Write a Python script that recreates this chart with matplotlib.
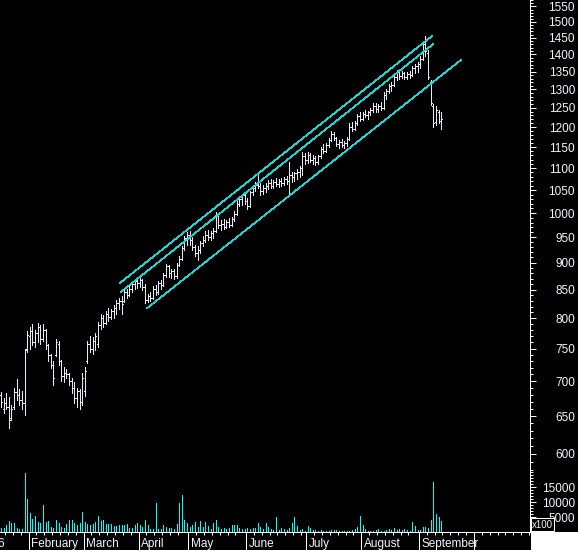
import numpy as np
import matplotlib
matplotlib.use("Agg")
import matplotlib.pyplot as plt
from matplotlib.collections import LineCollection
from matplotlib.patches import Rectangle
from matplotlib.ticker import FixedLocator, NullFormatter, FuncFormatter
from matplotlib import transforms

plt.rcParams['font.family'] = ['Liberation Sans', 'DejaVu Sans']

# daily bars, mid-January .. early September (index = trading day)
opens = [680, 660, 668, 662, 648, 662, 684, 680, 672, 668, 750,
         770, 778, 760, 775, 785, 765, 780, 755, 740, 725, 740, 758, 730, 708, 712, 710, 700, 690, 675, 685, 670,
         685, 730, 758, 750, 762, 758, 788, 800, 792, 808, 802, 812, 818, 826, 830, 830, 845, 840, 852, 860, 866,
         862, 868, 855, 832, 838, 835, 852, 845, 862, 858, 876, 893, 880, 884, 875, 896, 908, 928, 948,
         955, 945, 930, 918, 925, 938, 945, 955, 950, 958, 962, 995, 975, 978, 970, 982, 975, 988, 998, 1020, 1030, 1038,
         1025, 1015, 1045, 1055, 1062, 1058, 1048, 1055, 1060, 1065, 1058, 1068, 1064, 1070, 1066, 1075, 1070, 1085,
         1080, 1088, 1092, 1100, 1128,
         1118, 1130, 1120, 1125, 1115, 1128, 1145, 1140, 1155, 1168, 1182, 1172, 1158, 1162, 1155, 1160, 1170, 1200,
         1195, 1210, 1228,
         1222, 1235, 1230, 1238, 1245, 1255, 1248, 1255, 1250, 1285, 1295, 1308, 1312, 1335, 1348, 1338, 1345, 1336,
         1342, 1340, 1360, 1365,
         1372, 1388, 1430, 1405, 1320, 1255, 1212, 1240, 1215]
highs = [684, 676, 682, 677, 665, 690, 703, 688, 685, 750, 778,
         785, 790, 780, 792, 788, 790, 782, 757, 742, 730, 765, 762, 732, 722, 718, 712, 705, 698, 690, 688, 712,
         722, 762, 770, 768, 775, 794, 808, 806, 812, 818, 815, 822, 832, 835, 838, 850, 852, 856, 866, 870, 874,
         872, 870, 860, 842, 845, 856, 858, 866, 868, 880, 898, 895, 888, 888, 900, 912, 932, 952, 960,
         962, 950, 935, 932, 942, 952, 962, 965, 962, 968, 1002, 998, 985, 988, 986, 990, 992, 1004, 1025, 1036, 1042,
         1045,
         1032, 1048, 1062, 1068, 1088, 1065, 1062, 1066, 1072, 1075, 1072, 1078, 1074, 1078, 1080, 1082, 1114, 1090,
         1092, 1098, 1105, 1138, 1136,
         1138, 1136, 1130, 1128, 1132, 1150, 1158, 1160, 1172, 1190, 1188, 1176, 1168, 1170, 1166, 1175, 1210, 1212,
         1215, 1235, 1238,
         1240, 1245, 1242, 1250, 1262, 1262, 1260, 1266, 1292, 1300, 1315, 1320, 1340, 1355, 1352, 1352, 1350, 1348,
         1352, 1365, 1372, 1378,
         1395, 1440, 1455, 1412, 1325, 1260, 1255, 1245, 1240]
lows = [662, 654, 660, 634, 645, 660, 672, 665, 660, 652, 745,
        750, 755, 752, 760, 758, 762, 750, 730, 720, 695, 738, 725, 700, 698, 705, 695, 682, 668, 662, 660, 665,
        678, 728, 745, 742, 748, 752, 782, 785, 790, 796, 798, 800, 808, 815, 808, 828, 835, 838, 845, 852, 853,
        855, 850, 826, 828, 830, 833, 840, 843, 852, 856, 874, 874, 872, 870, 872, 893, 905, 925, 935,
        935, 925, 912, 905, 918, 932, 940, 944, 945, 948, 960, 968, 964, 966, 968, 970, 972, 984, 995, 1014, 1018,
        1020,
        1008, 1012, 1040, 1048, 1055, 1040, 1042, 1045, 1052, 1055, 1054, 1058, 1056, 1060, 1062, 1064, 1043, 1068,
        1070, 1075, 1080, 1084, 1110,
        1112, 1115, 1110, 1108, 1110, 1125, 1135, 1138, 1150, 1165, 1168, 1152, 1148, 1150, 1148, 1152, 1168, 1190,
        1192, 1205, 1215,
        1218, 1225, 1222, 1230, 1238, 1240, 1240, 1245, 1248, 1275, 1290, 1295, 1310, 1325, 1330, 1332, 1330, 1328,
        1332, 1338, 1345, 1350,
        1360, 1385, 1395, 1330, 1258, 1200, 1205, 1210, 1196]
closes = [670, 668, 662, 645, 660, 684, 680, 672, 668, 748, 772,
          778, 760, 775, 785, 765, 780, 755, 740, 725, 705, 760, 730, 708, 712, 710, 700, 690, 675, 685, 670, 705,
          715, 758, 750, 762, 770, 788, 800, 792, 808, 802, 812, 818, 826, 830, 825, 845, 840, 852, 860, 866, 862,
          868, 855, 832, 838, 835, 852, 845, 862, 858, 876, 893, 880, 884, 875, 896, 908, 928, 948, 955,
          945, 930, 918, 925, 938, 945, 955, 950, 958, 962, 995, 975, 978, 970, 982, 975, 988, 998, 1020, 1030, 1038,
          1025,
          1015, 1045, 1055, 1062, 1058, 1048, 1055, 1060, 1065, 1058, 1068, 1064, 1070, 1066, 1075, 1070, 1085, 1080,
          1088, 1092, 1100, 1128, 1118,
          1130, 1120, 1125, 1115, 1128, 1145, 1140, 1155, 1168, 1182, 1172, 1158, 1162, 1155, 1160, 1170, 1200, 1195,
          1210, 1228, 1222,
          1235, 1230, 1238, 1245, 1255, 1248, 1255, 1250, 1285, 1295, 1308, 1312, 1335, 1348, 1338, 1345, 1336, 1342,
          1340, 1360, 1365, 1372,
          1388, 1430, 1410, 1335, 1262, 1210, 1245, 1215, 1222]
# volume, in hundreds of shares
volume = [1400, 1400, 2200, 3600, 3000, 3000, 1300, 1100, 1100, 19600, 11100,
          6300, 4400, 5500, 3300, 3000, 8900, 3300, 3600, 1700, 1300, 3900, 3000, 1700, 1300, 2600, 3900, 3900,
          3000, 2200, 3000, 6700,
          3300, 2600, 2200, 2600, 3300, 5200, 3700, 3900, 2800, 2800, 2600, 1900, 1900, 2200, 2200, 2200, 2600,
          1400, 1400, 2200, 3000,
          2200, 1700, 3900, 2200, 1100, 1100, 9700, 900, 900, 2200, 1700, 1400, 1400, 1100, 2600, 9700, 12200,
          3900, 3000,
          1700, 2200, 3300, 1700, 3600, 1700, 3300, 1900, 1100, 3000, 3900, 1700, 900, 1400, 1100, 1400, 2200,
          2200, 2200, 1400, 900, 900,
          1300, 1100, 1400, 1300, 3000, 1700, 1100, 3000, 1700, 1100, 550, 5000, 800, 1400, 900, 550, 1400, 3000,
          5000, 1900, 550, 1100, 220,
          1900, 1400, 800, 800, 330, 550, 330, 330, 330, 550, 800, 800, 220, 220, 220, 220, 330, 550, 900, 1700,
          5200,
          2200, 900, 330, 220, 330, 550, 1100, 330, 330, 550, 900, 550, 1400, 550, 1100, 550, 900, 550, 330, 3300,
          1900, 800,
          800, 1700, 1700, 1400, 4000, 16700, 6000, 5000, 3700]

# first bar of each month (the last one opens October, unlabelled)
month_starts = [11, 32, 53, 72, 94, 117, 138, 160, 181]
month_names = ["February", "March", "April", "May", "June", "July", "August", "September", ""]

# trend channel (bar index, price)
upper_x, upper_y = [45.4, 164.5], [862, 1456]
middle_x, middle_y = [45.8, 164.9], [846, 1431]
lower_x, lower_y = [55.7, 175.6], [817, 1384]

price_ticks = list(range(550, 1551, 50))
volume_ticks = [5000, 10000, 15000]

W, H = 578, 550
BAR = "#e8e8f6"
CYAN = "#00ffff"
LINE = "#1cd6d6"
TXT = "#f4f4ff"
px = 0.72  # points per pixel
LW = 0.5   # thinner than a pixel, so it renders as exactly one


def fbox(x0, y0, x1, y1):
    return [x0 / W, 1 - y1 / H, (x1 - x0) / W, (y1 - y0) / H]


fig = plt.figure(figsize=(W / 100, H / 100), dpi=100, facecolor="black")
ax = fig.add_axes(fbox(0, 0, 530, 470), facecolor="black")
axv = fig.add_axes(fbox(0, 470, 530, 532), facecolor="black", sharex=ax)

idx = np.arange(len(closes))
segs = []
for i, o, h, l, c in zip(idx, opens, highs, lows, closes):
    segs.append([(i, l), (i, h)])
    segs.append([(i - 0.38, o), (i, o)])
    segs.append([(i, c), (i + 0.38, c)])
ax.add_collection(LineCollection(segs, colors=BAR, linewidths=LW, antialiased=False))

for xs, ys in [(upper_x, upper_y), (middle_x, middle_y), (lower_x, lower_y)]:
    ax.plot(xs, ys, color=LINE, lw=LW, antialiased=False)

axv.vlines(idx, 0, volume, colors=CYAN, linewidths=LW, antialiased=False)

ax.set_yscale("log")
ax.set_ylim(579.7, 1571.5)
ax.set_xlim(-0.38, 201.9)
axv.set_ylim(0, 20667)

for a, major, minor in [(ax, price_ticks, np.arange(560, 1571, 10)),
                        (axv, volume_ticks, np.arange(1000, 20001, 1000))]:
    a.yaxis.tick_right()
    a.yaxis.set_major_locator(FixedLocator(major))
    a.yaxis.set_minor_locator(FixedLocator(minor))
    a.yaxis.set_major_formatter(FuncFormatter(lambda v, p: f"{v:.0f}"))
    a.yaxis.set_minor_formatter(NullFormatter())
    a.tick_params(axis="y", which="major", length=6 * px, width=px, color="white",
                  labelcolor=TXT, labelsize=8.5, pad=39 * px)
    a.tick_params(axis="y", which="minor", length=3 * px, width=px, color="white")
    plt.setp(a.yaxis.get_majorticklabels(), ha="right")
    for s in a.spines.values():
        s.set_visible(False)
    a.spines["right"].set_visible(True)
    a.spines["right"].set_color("white")
    a.spines["right"].set_linewidth(px)

ax.tick_params(axis="x", which="both", bottom=False, labelbottom=False)
axv.spines["bottom"].set_visible(True)
axv.spines["bottom"].set_color("white")
axv.spines["bottom"].set_linewidth(px)

# month boundaries get long ticks, small ticks every three bars in between
seps = [m - 0.5 for m in month_starts]
bounds = [-1.0] + seps + [205]
minor_x = []
for a, b in zip(bounds[:-1], bounds[1:]):
    if a < 0:
        k = b - 3
        while k > -0.3:
            minor_x.append(k)
            k -= 3
    else:
        k = a + 3
        while k < b - 1 and k < 202:
            minor_x.append(k)
            k += 3

axv.xaxis.set_major_locator(FixedLocator(seps))
axv.xaxis.set_minor_locator(FixedLocator(minor_x))
axv.xaxis.set_major_formatter(NullFormatter())
axv.xaxis.set_minor_formatter(NullFormatter())
axv.tick_params(axis="x", which="major", length=18 * px, width=px, color="white")
axv.tick_params(axis="x", which="minor", length=3 * px, width=px, color="white")

lab_tr = transforms.offset_copy(
    transforms.blended_transform_factory(axv.transData, fig.transFigure),
    fig=fig, x=2.4, y=0, units="dots")
for s, name in zip(seps, month_names):
    axv.text(s, 1 - 547 / H, name, transform=lab_tr, color=TXT, fontsize=8.5,
             ha="left", va="baseline", clip_on=False)
fig.text(4 / W, 1 - 547 / H, "6", color=TXT, fontsize=8.5, ha="right", va="baseline")

fig.add_artist(Rectangle((530.5 / W, 0), 48 / W, 18 / H, transform=fig.transFigure,
                         facecolor="white", edgecolor="none", zorder=5))
fig.add_artist(Rectangle((531 / W, 1 - 531 / H), 23 / W, 13 / H, transform=fig.transFigure,
                         facecolor="black", edgecolor="white", lw=px, zorder=6))
fig.text(542.5 / W, 1 - 524.5 / H, "x100", color=TXT, fontsize=7, ha="center", va="center", zorder=7)

fig.savefig("out.png", dpi=100, facecolor="black")
